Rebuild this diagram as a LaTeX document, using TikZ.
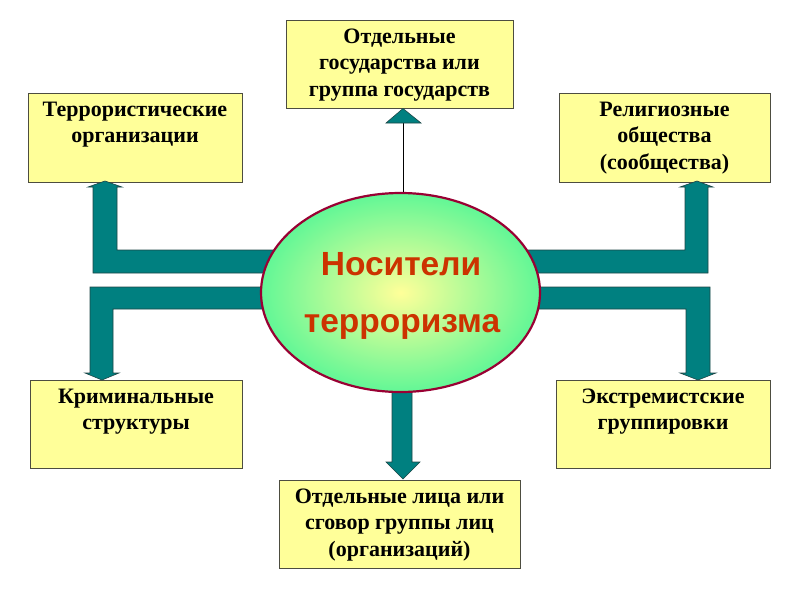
\documentclass[tikz,border=0pt]{standalone}
\usepackage{fontspec}
\setmainfont{Liberation Serif}
\newfontfamily\ovalfont{Liberation Sans}
\usetikzlibrary{shapes.geometric}
\definecolor{boxfill}{HTML}{FFFF99}
\definecolor{boxline}{HTML}{4D4D40}
\definecolor{teal1}{HTML}{008080}
\definecolor{tealline}{HTML}{1E4646}
\definecolor{ecen}{HTML}{FFFF99}
\definecolor{eout}{HTML}{3CF595}
\definecolor{eline}{HTML}{990033}
\definecolor{otext}{HTML}{CC3300}
\pgfdeclareradialshading{ovalsh}{\pgfpoint{0bp}{0bp}}{color(0bp)=(ecen); color(31bp)=(eout); color(50bp)=(eout)}
\tikzset{
  infobox/.style={draw=boxline, line width=1pt, fill=boxfill, rectangle, inner sep=0pt},
  boxtext/.style={anchor=north, align=center, inner sep=0pt, font=\bfseries\fontsize{22}{26.5}\selectfont},
  blockarrow/.style={fill=teal1, draw=tealline, line width=0.6pt, line join=miter},
  ovaltext/.style={anchor=base, inner sep=0pt, text=otext, font=\ovalfont\bfseries\fontsize{33.5}{36}\selectfont}
}
\begin{document}
\begin{tikzpicture}[x=1pt,y=-1pt]
\useasboundingbox (0,0) rectangle (800,600);
% boxes
\node[infobox, minimum width=227pt, minimum height=88pt] (tc) at (399.5,64) {};
\node[infobox, minimum width=214pt, minimum height=89pt] (tl) at (135,137.5) {};
\node[infobox, minimum width=211pt, minimum height=89pt] (tr) at (664.5,137.5) {};
\node[infobox, minimum width=212pt, minimum height=88pt] (bl) at (136,424) {};
\node[infobox, minimum width=214pt, minimum height=88pt] (br) at (663,424) {};
\node[infobox, minimum width=241pt, minimum height=88pt] (bc) at (399.5,524) {};
\node[boxtext] (tct) at ([yshift=-9pt]tc.north) {Отдельные\\государства или\\группа государств};
\node[boxtext] (tlt) at ([yshift=-9pt]tl.north) {Террористические\\организации};
\node[boxtext] (trt) at ([yshift=-9pt]tr.north) {Религиозные\\общества\\(сообщества)};
\node[boxtext] (blt) at ([yshift=-9pt]bl.north) {Криминальные\\структуры};
\node[boxtext] (brt) at ([yshift=-9pt]br.north) {Экстремистские\\группировки};
\node[boxtext] (bct) at ([yshift=-9pt]bc.north) {Отдельные лица или\\сговор группы лиц\\(организаций)};
% block arrows (behind the oval)
\draw[blockarrow] (105,181) -- (122,187) -- (117,187) -- (117,250) -- (400,250) -- (400,273) -- (93,273) -- (93,187) -- (88,187) -- cycle;
\draw[blockarrow] (90,287) -- (400,287) -- (400,309) -- (113,309) -- (113,373) -- (119,373) -- (102,380) -- (85,373) -- (90,373) -- cycle;
\draw[blockarrow] (400,250) -- (685,250) -- (685,187) -- (680,187) -- (697,181) -- (713,187) -- (708,187) -- (708,273) -- (400,273) -- cycle;
\draw[blockarrow] (400,287) -- (710,287) -- (710,373) -- (716,373) -- (698,380) -- (680,373) -- (686,373) -- (686,309) -- (400,309) -- cycle;
\draw[blockarrow] (392,300) -- (412,300) -- (412,462) -- (420,462) -- (403,479) -- (386,462) -- (392,462) -- cycle;
% oval
\node[ellipse, draw=eline, line width=2.2pt, shading=ovalsh, minimum width=279pt, minimum height=199pt, inner sep=0pt] (core) at (400.5,292.5) {};
\node[ovaltext] (o1) at (401,275) {Носители};
\node[ovaltext] (o2) at (402,332) {терроризма};
% top connector
\coordinate (tip) at (403,123);
\draw[line width=1pt] (core.north -| tip) -- (tip);
\draw[fill=teal1, draw=tealline, line width=0.6pt] (386,123) -- (421,123) -- (tc.south -| tip) -- cycle;
\end{tikzpicture}
\end{document}
